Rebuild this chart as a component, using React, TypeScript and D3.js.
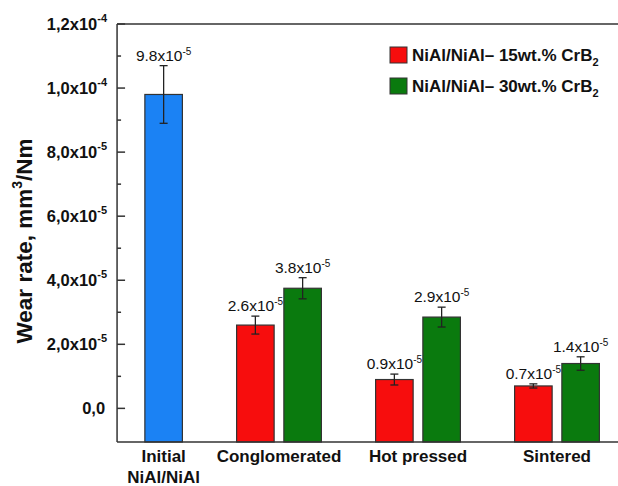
import React from "react";
import * as d3 from "d3";

// categories and their positions on the x axis
const categories = ["Initial\nNiAl/NiAl", "Conglomerated", "Hot pressed", "Sintered"];
const catPos = [1.17, 2, 3, 4];

// initial material (single bar)
const initialValue = 9.8e-5;
const initialErr = 0.9e-5;
const initialLabel = "9.8";

// composite series (Conglomerated, Hot pressed, Sintered)
const series15 = [2.6e-5, 0.9e-5, 0.7e-5];
const err15 = [0.28e-5, 0.17e-5, 0.065e-5];
const labels15 = ["2.6", "0.9", "0.7"];

const series30 = [3.75e-5, 2.85e-5, 1.4e-5];
const err30 = [0.33e-5, 0.31e-5, 0.21e-5];
const labels30 = ["3.8", "2.9", "1.4"];

const yTicks = [0, 2e-5, 4e-5, 6e-5, 8e-5, 1e-4, 1.2e-4];
const yTickLabels = [
  ["0,0", ""],
  ["2,0x10", "-5"],
  ["4,0x10", "-5"],
  ["6,0x10", "-5"],
  ["8,0x10", "-5"],
  ["1,0x10", "-4"],
  ["1,2x10", "-4"],
];
const yMinor = [1e-5, 3e-5, 5e-5, 7e-5, 9e-5, 1.1e-4];

const legendItems = [
  { name: "NiAl/NiAl– 15wt.% CrB", color: "#f70d0d" },
  { name: "NiAl/NiAl– 30wt.% CrB", color: "#0a7a0e" },
];

const BLUE = "#1b82f4";
const FONT = "'Liberation Sans', Arial, sans-serif";

export default function App() {
  const width = 618;
  const height = 486;

  const x = d3.scaleLinear().domain([1, 4]).range([140, 557]);
  const y = d3.scaleLinear().domain([-1.05e-5, 1.2e-4]).range([442, 24]);

  const left = x(0.835);
  const right = x(4.6);
  const bw = x(1.27) - x(1);
  const off = x(1.17) - x(1);

  const bars: { cx: number; v: number; e: number; lab: string; color: string }[] = [
    { cx: x(catPos[0]), v: initialValue, e: initialErr, lab: initialLabel, color: BLUE },
  ];
  series15.forEach((v, i) => {
    bars.push({ cx: x(catPos[i + 1]) - off, v, e: err15[i], lab: labels15[i], color: legendItems[0].color });
  });
  series30.forEach((v, i) => {
    bars.push({ cx: x(catPos[i + 1]) + off, v, e: err30[i], lab: labels30[i], color: legendItems[1].color });
  });

  return (
    <div style={{ position: "absolute", left: 0, top: 0 }}>
      <svg width={width} height={height} style={{ display: "block", background: "#fff" }} fontFamily={FONT}>
        {/* bars */}
        {bars.map((b, i) => (
          <g key={i}>
            <rect
              x={b.cx - bw / 2}
              y={y(b.v)}
              width={bw}
              height={y.range()[0] - y(b.v)}
              fill={b.color}
              stroke="#333"
              strokeWidth={1.2}
            />
            <line x1={b.cx} x2={b.cx} y1={y(b.v + b.e)} y2={y(b.v - b.e)} stroke="#222" strokeWidth={1.3} />
            <line x1={b.cx - 4} x2={b.cx + 4} y1={y(b.v + b.e)} y2={y(b.v + b.e)} stroke="#222" strokeWidth={1.3} />
            <line x1={b.cx - 4} x2={b.cx + 4} y1={y(b.v - b.e)} y2={y(b.v - b.e)} stroke="#222" strokeWidth={1.3} />
            <text x={b.cx} y={y(b.v + b.e) - 5} textAnchor="middle" fontSize={15.5} fill="#111">
              {b.lab}x10
              <tspan fontSize={10} dy={-6}>-5</tspan>
            </text>
          </g>
        ))}

        {/* frame */}
        <line x1={left} x2={right} y1={y.range()[1]} y2={y.range()[1]} stroke="#333" strokeWidth={1.5} />
        <line x1={left} x2={right} y1={y.range()[0]} y2={y.range()[0]} stroke="#333" strokeWidth={1.5} />
        <line x1={left} x2={left} y1={y.range()[1]} y2={y.range()[0]} stroke="#333" strokeWidth={1.5} />

        {/* y ticks */}
        {yTicks.map((t, i) => (
          <g key={t}>
            <line x1={left} x2={left + 8} y1={y(t)} y2={y(t)} stroke="#333" strokeWidth={1.5} />
            <text x={yTickLabels[i][1] ? left - 10 : left - 12} y={y(t) + 6} textAnchor="end" fontSize={16.5} fontWeight="bold" fill="#111">
              {yTickLabels[i][0]}
              {yTickLabels[i][1] && (
                <tspan fontSize={11} dy={-8}>{yTickLabels[i][1]}</tspan>
              )}
            </text>
          </g>
        ))}
        {yMinor.map((t) => (
          <line key={t} x1={left} x2={left + 4} y1={y(t)} y2={y(t)} stroke="#333" strokeWidth={1.5} />
        ))}

        {/* y title */}
        <text
          transform={`translate(32,${(y.range()[0] + y.range()[1]) / 2 + 8}) rotate(-90)`}
          textAnchor="middle"
          fontSize={22.5}
          fontWeight="bold"
          fill="#111"
        >
          Wear rate, mm
          <tspan fontSize={14} dy={-10}>3</tspan>
          <tspan dy={10}>/Nm</tspan>
        </text>

        {/* x category labels */}
        {categories.map((c, i) => (
          <text key={c} x={x(catPos[i])} y={462} textAnchor="middle" fontSize={17} fontWeight="bold" fill="#111">
            {c.split("\n").map((line, j) => (
              <tspan key={j} x={x(catPos[i])} dy={j === 0 ? 0 : 21}>{line}</tspan>
            ))}
          </text>
        ))}

        {/* legend */}
        {legendItems.map((item, i) => (
          <g key={item.name} transform={`translate(390,${47 + i * 31})`}>
            <rect width={17} height={16} fill={item.color} stroke="#333" strokeWidth={1} />
            <text x={22} y={14} fontSize={17} fontWeight="bold" fill="#111">
              {item.name}
              <tspan fontSize={11} dy={5}>2</tspan>
            </text>
          </g>
        ))}
      </svg>
    </div>
  );
}
